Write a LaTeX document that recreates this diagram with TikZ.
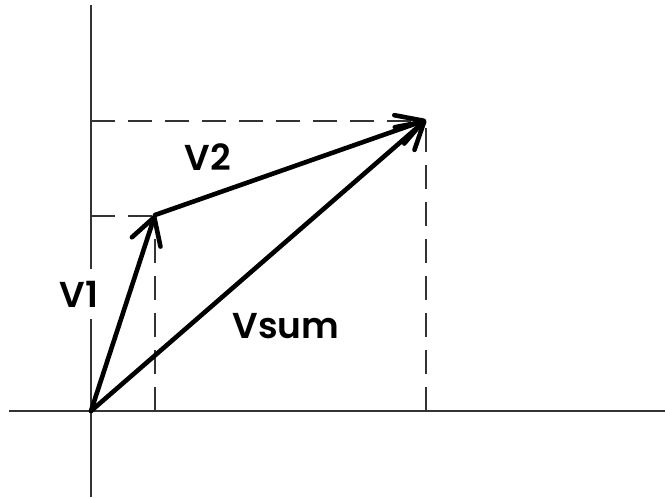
\documentclass[tikz,border=0pt]{standalone}
\usepackage{fontspec}
\setmainfont{Poppins}[UprightFont=* SemiBold]
\usetikzlibrary{arrows.meta}
\tikzset{
  axis/.style={draw=black!80, line width=2.2pt},
  guide/.style={draw=black!80, line width=2pt, dash pattern=on 24pt off 13pt},
  vec/.style={draw=black, line width=4.6pt, line cap=round,
    -{Straight Barb[length=26pt, width=30pt, line width=4.6pt, round]}},
  lbl/.style={fill=white, inner xsep=3pt, inner ysep=12pt, font=\fontsize{36}{40}\selectfont, text=black}
}
\begin{document}
\begin{tikzpicture}[x=1pt, y=-1pt]
\useasboundingbox (0,0) rectangle (665,498);
% points
\coordinate (O) at (91,411);
\coordinate (A) at (155,215);
\coordinate (B) at (426,120);
\coordinate (xl) at (9,411);
\coordinate (xr) at (665,411);
\coordinate (yt) at (91,5);
\coordinate (yb) at (91,497);
\coordinate (Ay) at (91,216);
\coordinate (Ax) at (155,411);
\coordinate (By) at (91,121);
\coordinate (Bx) at (426,411);
% axes
\draw[axis] (xl) -- (xr);
\draw[axis] (yt) -- (yb);
% guides
\draw[guide] (Ay) -- (A |- Ay);
\draw[guide] (Ax) -- (A);
\draw[guide] (By) -- (B |- By);
\draw[guide] (Bx) -- (B);
% labels
\node[lbl] (l1) at (79,294) {V1};
\node[lbl] (l2) at (208,157) {V2};
\node[lbl] (l3) at (286,326) {Vsum};
% vectors
\draw[vec] (O) -- (A);
\draw[vec] (A) -- (B);
\draw[vec] (O) -- (B);
\end{tikzpicture}
\end{document}
